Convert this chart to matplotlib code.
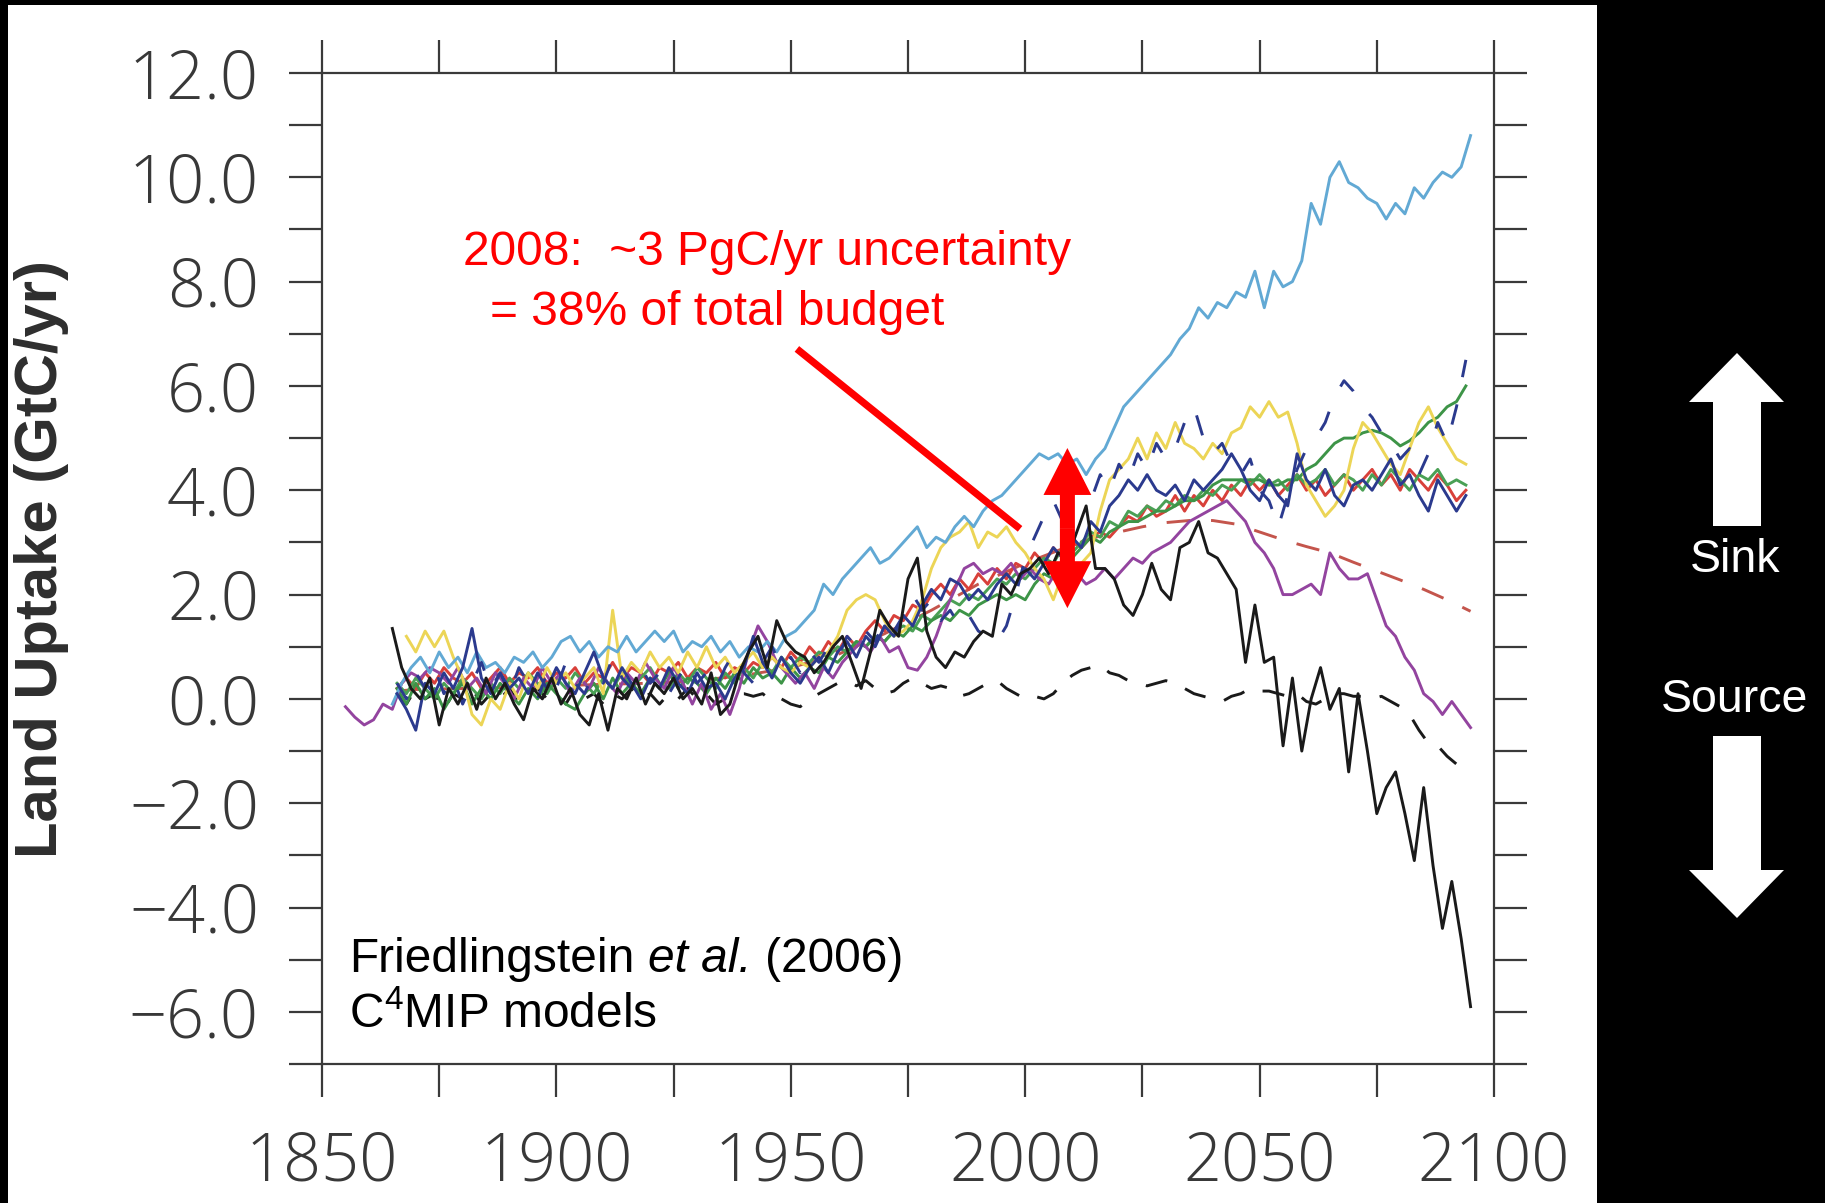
import numpy as np
import matplotlib
matplotlib.use('Agg')
import matplotlib.pyplot as plt
from matplotlib import font_manager as fm
from matplotlib.patches import Rectangle, Polygon, FancyArrow

plt.rcParams['font.family'] = ['Liberation Sans', 'DejaVu Sans']
plt.rcParams['mathtext.fontset'] = 'custom'
plt.rcParams['mathtext.rm'] = 'Liberation Sans'
plt.rcParams['mathtext.it'] = 'Liberation Sans:italic'
plt.rcParams['lines.scale_dashes'] = False

# ---------------- data (GtC/yr), values ----------------
black_solid_start = 1865
black_solid = [1.35, 0.6, 0.2, 0.0, 0.4, -0.5, 0.2, -0.1, 0.3, -0.2, 0.4, 0.0, 0.3, -0.1, -0.4, 0.2,
               0.0, 0.4, -0.1, 0.2, -0.3, -0.5, 0.1, -0.6, 0.2, 0.0, 0.4, -0.1, 0.3, 0.1, 0.4, 0.0,
               0.2, -0.1, 0.5, -0.3, -0.1, 0.5, 0.9, 1.2, 0.6, 1.5, 1.1, 0.9, 0.8, 0.5, 0.7, 1.0,
               1.2, 0.7, 0.2, 0.9, 1.7, 1.4, 1.2, 2.3, 2.7, 1.3, 0.8, 0.6, 0.9, 0.8, 1.1, 1.3,
               1.2, 2.2, 2.0, 2.4, 2.5, 2.7, 2.4, 2.8, 2.7, 3.2, 3.7, 2.5, 2.5, 2.3, 1.8, 1.6,
               2.0, 2.6, 2.1, 1.9, 2.9, 3.0, 3.4, 2.8, 2.7, 2.4, 2.1, 0.7, 1.8, 0.7, 0.8, -0.9,
               0.4, -1.0, 0.0, 0.6, -0.2, 0.2, -1.4, 0.1, -1.0, -2.2, -1.7, -1.4, -2.2, -3.1, -1.7, -3.2,
               -4.4, -3.5, -4.6, -5.9]

light_blue_start = 1865
light_blue = [-0.1, 0.3, 0.6, 0.8, 0.5, 0.9, 0.6, 0.8, 0.5, 0.9, 0.6, 0.7, 0.5, 0.8, 0.7, 0.9,
              0.6, 0.8, 1.1, 1.2, 0.9, 1.1, 0.8, 1.0, 0.9, 1.2, 0.9, 1.1, 1.3, 1.1, 1.3, 0.9,
              1.1, 1.0, 1.2, 0.9, 1.1, 0.8, 1.0, 0.9, 1.1, 0.9, 1.2, 1.3, 1.5, 1.7, 2.2, 2.0,
              2.3, 2.5, 2.7, 2.9, 2.6, 2.7, 2.9, 3.1, 3.3, 2.9, 3.1, 3.0, 3.3, 3.5, 3.3, 3.6,
              3.8, 3.9, 4.1, 4.3, 4.5, 4.7, 4.6, 4.7, 4.5, 4.6, 4.3, 4.6, 4.8, 5.2, 5.6, 5.8,
              6.0, 6.2, 6.4, 6.6, 6.9, 7.1, 7.5, 7.3, 7.6, 7.5, 7.8, 7.7, 8.2, 7.5, 8.2, 7.9,
              8.0, 8.4, 9.5, 9.1, 10.0, 10.3, 9.9, 9.8, 9.6, 9.5, 9.2, 9.5, 9.3, 9.8, 9.6, 9.9,
              10.1, 10.0, 10.2, 10.8]

yellow_start = 1868
yellow = [1.2, 0.9, 1.3, 1.0, 1.3, 0.8, 0.4, -0.3, -0.5, 0.0, -0.2, 0.3, 0.0, 0.5, 0.2, 0.6,
          0.3, 0.5, 0.2, 0.4, 0.6, 0.1, 1.7, 0.4, 0.7, 0.5, 0.9, 0.6, 0.8, 0.5, 0.9, 0.6,
          1.0, 0.6, 0.8, 0.5, 0.7, 0.9, 0.6, 0.8, 0.6, 0.5, 0.7, 0.6, 0.8, 0.9, 1.2, 1.7,
          1.9, 2.0, 1.9, 1.5, 1.2, 1.3, 1.5, 1.9, 2.5, 2.9, 3.1, 3.2, 3.4, 2.9, 3.2, 3.1,
          3.3, 3.0, 2.8, 2.5, 2.3, 1.9, 2.4, 2.2, 2.6, 2.8, 3.6, 4.2, 4.4, 4.6, 5.0, 4.6,
          5.1, 4.8, 5.3, 4.9, 4.8, 4.6, 4.9, 4.7, 5.1, 5.2, 5.6, 5.4, 5.7, 5.4, 5.5, 4.9,
          4.1, 3.8, 3.5, 3.7, 4.0, 4.8, 5.3, 5.1, 4.8, 4.5, 4.3, 4.8, 5.3, 5.6, 5.2, 4.9,
          4.6, 4.5]

navy_solid_start = 1866
navy_solid = [0.1, -0.2, -0.6, 0.3, 0.1, 0.5, 0.2, 0.6, 1.35, 0.4, 0.1, 0.5, 0.2, 0.4, 0.1, 0.5,
              0.2, 0.6, 0.3, 0.1, 0.5, 0.9, 0.4, 0.2, 0.6, 0.3, 0.0, 0.4, 0.2, 0.6, 0.3, 0.1,
              0.5, 0.2, 0.3, 0.0, 0.4, 0.6, 1.2, 0.7, 0.4, 0.8, 0.5, 0.3, 0.6, 0.8, 0.5, 0.9,
              1.1, 0.8, 1.2, 1.0, 1.4, 1.2, 1.6, 1.4, 1.8, 2.1, 1.9, 2.3, 2.2, 1.9, 2.1, 1.9,
              2.2, 2.4, 2.2, 2.5, 2.3, 2.6, 2.9, 2.7, 3.1, 2.9, 3.4, 3.2, 3.7, 3.9, 4.2, 4.0,
              4.3, 4.0, 3.9, 4.1, 3.8, 4.2, 4.0, 4.2, 4.4, 4.7, 4.4, 4.0, 3.8, 4.2, 3.9, 3.7,
              4.7, 4.2, 4.0, 4.4, 3.9, 3.7, 4.1, 4.2, 4.0, 4.3, 4.6, 4.1, 4.3, 3.9, 3.6, 4.2,
              3.9, 3.6, 3.9]

navy_dashed_start = 1866
navy_dashed = [0.3, 0.0, 0.5, 0.2, 0.6, 0.1, 0.4, -0.1, 0.3, 0.7, 0.2, 0.5, 0.1, 0.6, 0.3, 0.0,
               0.5, 0.2, 0.7, 0.3, 0.1, 0.5, 0.3, 0.8, 0.4, 0.2, 0.6, 0.3, 0.5, 0.1, 0.4, 0.7,
               0.3, 0.5, 0.2, 0.6, 0.9, 0.5, 0.3, 0.7, 1.0, 0.6, 0.8, 0.5, 0.9, 0.7, 1.0, 0.8,
               1.2, 1.0, 1.3, 1.1, 1.5, 1.3, 1.6, 2.0, 1.7, 1.9, 1.5, 1.7, 1.4, 1.6, 1.3, 1.2,
               1.1, 1.4, 2.0, 2.7, 3.1, 3.5, 3.8, 3.4, 3.9, 4.2, 3.8, 4.3, 4.0, 4.5, 4.2, 4.7,
               4.4, 4.9, 4.6, 4.8, 5.3, 5.6, 5.0, 4.7, 4.9, 4.5, 4.3, 4.6, 4.0, 3.8, 3.3, 3.9,
               4.4, 4.8, 5.0, 5.3, 5.8, 6.1, 5.9, 5.6, 5.4, 5.1, 4.9, 4.6, 4.8, 4.3, 4.7, 5.3,
               4.9, 5.6, 6.5]

green_start = 1866
green = [0.2, -0.1, 0.3, 0.0, 0.2, -0.2, 0.1, 0.3, -0.1, 0.2, 0.0, 0.3, 0.1, -0.1, 0.2, 0.0,
         0.3, 0.1, -0.1, -0.2, 0.1, 0.3, 0.0, 0.4, 0.1, 0.3, 0.1, 0.4, 0.2, 0.5, 0.2, 0.4,
         0.3, 0.1, 0.4, 0.2, 0.5, 0.3, 0.6, 0.4, 0.5, 0.3, 0.6, 0.4, 0.6, 0.5, 0.8, 0.7,
         0.9, 1.1, 1.0, 1.2, 1.1, 1.3, 1.2, 1.4, 1.3, 1.5, 1.6, 1.5, 1.7, 1.6, 1.8, 1.9,
         2.0, 1.9, 2.0, 1.9, 2.2, 2.4, 2.3, 2.6, 2.7, 2.9, 3.1, 3.0, 3.2, 3.3, 3.4, 3.4,
         3.5, 3.6, 3.6, 3.7, 3.8, 3.8, 3.9, 4.1, 4.2, 4.2, 4.2, 4.2, 4.2, 4.1, 4.1, 4.2,
         4.2, 4.4, 4.5, 4.7, 4.9, 5.0, 5.0, 5.1, 5.15, 5.1, 5.0, 4.85, 4.95, 5.1, 5.3, 5.4,
         5.6, 5.7, 6.0]

green2_start = 1866
green2 = [0.3, 0.1, 0.4, 0.2, 0.0, 0.3, 0.1, 0.4, 0.2, 0.0, 0.3, 0.1, 0.4, 0.2, 0.5, 0.3,
          0.1, 0.4, 0.2, 0.5, 0.3, 0.1, 0.4, 0.2, 0.5, 0.2, 0.4, 0.6, 0.3, 0.2, 0.5, 0.3,
          0.6, 0.4, 0.2, 0.5, 0.3, 0.6, 0.4, 0.7, 0.5, 0.8, 0.6, 0.8, 0.7, 0.9, 0.8, 1.0,
          0.9, 1.1, 1.0, 1.2, 1.1, 1.3, 1.4, 1.3, 1.6, 1.5, 1.7, 1.9, 1.8, 2.0, 1.9, 2.1,
          2.3, 2.2, 2.4, 2.3, 2.5, 2.7, 2.6, 2.9, 2.8, 3.0, 3.2, 3.1, 3.4, 3.3, 3.6, 3.5,
          3.7, 3.6, 3.8, 3.7, 3.9, 3.8, 4.0, 3.9, 4.1, 4.0, 4.2, 4.1, 4.3, 4.1, 4.2, 4.0,
          4.3, 4.1, 4.2, 4.4, 4.1, 4.3, 4.2, 4.0, 4.3, 4.1, 4.4, 4.2, 4.0, 4.3, 4.2, 4.4,
          4.1, 4.2, 4.1]

red_start = 1866
red = [0.2, 0.4, 0.2, 0.5, 0.3, 0.6, 0.4, 0.3, 0.5, 0.2, 0.4, 0.6, 0.3, 0.5, 0.4, 0.6,
       0.3, 0.5, 0.4, 0.6, 0.3, 0.5, 0.4, 0.7, 0.4, 0.6, 0.5, 0.3, 0.6, 0.5, 0.7, 0.4,
       0.6, 0.5, 0.7, 0.4, 0.6, 0.5, 0.7, 0.6, 0.8, 0.6, 0.9, 0.7, 1.0, 0.8, 1.1, 0.9,
       1.2, 1.0, 1.3, 1.5, 1.3, 1.6, 1.5, 1.8, 1.7, 2.0, 2.2, 2.0, 2.3, 2.1, 2.4, 2.2,
       2.5, 2.3, 2.6, 2.5, 2.8, 2.6, 2.9, 2.7, 3.0, 2.9, 3.1, 3.2, 3.1, 3.3, 3.5, 3.4,
       3.7, 3.5, 3.6, 3.9, 3.6, 3.9, 3.7, 4.0, 3.8, 4.1, 3.9, 4.2, 4.0, 4.2, 3.9, 4.1,
       4.3, 4.0, 4.2, 3.9, 4.1, 4.3, 4.0, 4.2, 4.4, 4.1, 4.3, 4.0, 4.4, 4.2, 4.0, 4.3,
       4.1, 3.8, 4.0]

dkred_dashed_years = [1866, 1870, 1880, 1890, 1900, 1910, 1920, 1930, 1940, 1950, 1960, 1970,
                      1980, 1990, 2000, 2010, 2015, 2020, 2025, 2030, 2035, 2040, 2045, 2050,
                      2055, 2060, 2065, 2070, 2075, 2080, 2085, 2090, 2095]
dkred_dashed = [0.15, 0.18, 0.2, 0.22, 0.25, 0.28, 0.3, 0.35, 0.45, 0.6, 0.85, 1.25,
                1.7, 2.2, 2.6, 2.95, 3.1, 3.2, 3.3, 3.38, 3.42, 3.42, 3.35, 3.2,
                3.05, 2.92, 2.8, 2.62, 2.45, 2.28, 2.1, 1.9, 1.68]

purple_start = 1855
purple = [-0.15, -0.35, -0.5, -0.4, -0.1, -0.2, 0.3, 0.5, 0.4, 0.6, 0.5, 0.3, 0.6, 0.2, 0.4, 0.1,
          0.5, 0.3, 0.0, 0.4, 0.2, 0.6, 0.3, 0.5, 0.1, 0.4, 0.2, 0.6, 0.3, 0.1, 0.5, 0.3,
          0.7, 0.4, 0.2, 0.6, 0.3, -0.1, 0.3, -0.2, 0.1, -0.3, 0.2, 0.9, 1.4, 1.1, 0.7, 0.5,
          0.3, 0.5, 0.2, 0.6, 0.4, 0.7, 0.9, 1.1, 0.9, 1.2, 0.9, 1.0, 0.6, 0.55, 0.8, 1.2,
          1.7, 2.1, 2.5, 2.6, 2.4, 2.5, 2.4, 2.6, 2.3, 2.5, 2.3, 2.2, 2.5, 2.3, 2.4, 2.2,
          2.3, 2.5, 2.3, 2.5, 2.7, 2.6, 2.8, 2.9, 3.0, 3.2, 3.4, 3.5, 3.6, 3.7, 3.8, 3.6,
          3.4, 3.0, 2.8, 2.5, 2.0, 2.0, 2.1, 2.2, 2.0, 2.8, 2.5, 2.3, 2.3, 2.4, 1.9, 1.4,
          1.2, 0.8, 0.55, 0.1, -0.05, -0.3, -0.05, -0.3, -0.55]

black_dashed_start = 1866
black_dashed = [0.1, -0.1, 0.2, 0.0, 0.1, -0.2, 0.1, 0.0, 0.2, -0.1, 0.1, 0.0, 0.2, -0.1, 0.1, 0.2,
                0.0, 0.1, -0.1, 0.2, 0.0, 0.1, -0.1, 0.1, 0.0, 0.2, 0.0, 0.1, -0.1, 0.1, 0.0, 0.2,
                0.0, 0.1, -0.1, 0.0, 0.1, 0.1, 0.05, 0.1, -0.05, 0.0, -0.1, -0.15, 0.0, 0.1, 0.2, 0.3,
                0.35, 0.25, 0.35, 0.2, 0.1, 0.15, 0.3, 0.4, 0.3, 0.2, 0.25, 0.2, 0.05, 0.1, 0.2, 0.3,
                0.35, 0.2, 0.1, 0.0, 0.05, 0.0, 0.1, 0.3, 0.45, 0.55, 0.6, 0.65, 0.5, 0.45, 0.35, 0.3,
                0.25, 0.3, 0.35, 0.3, 0.2, 0.1, 0.05, 0.0, -0.05, 0.05, 0.1, 0.2, 0.15, 0.15, 0.1, 0.05,
                0.1, -0.05, -0.1, 0.0, 0.1, 0.1, 0.05, 0.05, 0.0, 0.05, -0.05, -0.15, -0.3, -0.6, -0.85, -0.9,
                -1.1, -1.25, -1.0]

x_ticks = [1850, 1875, 1900, 1925, 1950, 1975, 2000, 2025, 2050, 2075, 2100]
x_ticklabels = ['1850', '', '1900', '', '1950', '', '2000', '', '2050', '', '2100']
y_ticks = list(range(-7, 13))
y_ticklabels = [('%.1f' % v).replace('-', '\u2212') if v % 2 == 0 else '' for v in y_ticks]

# ---------------- fonts ----------------
tick_family = ['Liberation Sans', 'DejaVu Sans']
tick_weight = 'normal'
for fam in ['Roboto', 'Lato', 'Open Sans']:
    try:
        p = fm.findfont(fm.FontProperties(family=fam, weight='light'), fallback_to_default=False)
        if 'light' in p.lower():
            tick_family = [fam, 'Liberation Sans', 'DejaVu Sans']
            tick_weight = 'light'
            break
    except Exception:
        pass

# ---------------- figure ----------------
W, H = 1825, 1203
fig = plt.figure(figsize=(W / 100, H / 100), dpi=100, facecolor='black')


def fx(px):
    return px / W


def fy(py):
    return 1 - py / H


fig.add_artist(Rectangle((fx(8), 0), fx(1597) - fx(8), fy(5), transform=fig.transFigure,
                         facecolor='white', edgecolor='none', zorder=-5))

ax = fig.add_axes([fx(322), fy(1064), fx(1494) - fx(322), fy(73) - fy(1064)])
ax.set_facecolor('white')
ax.set_xlim(1850, 2100)
ax.set_ylim(-7, 12)

axis_col = '#3a3a3a'
ax.set_xticks(x_ticks)
ax.set_xticklabels(x_ticklabels)
ax.set_yticks(y_ticks)
ax.set_yticklabels(y_ticklabels)
ax.tick_params(axis='both', which='both', direction='out', length=23.5, width=1.6,
               top=True, right=True, labeltop=False, labelright=False,
               color=axis_col, labelcolor='#383838', labelsize=48)
ax.tick_params(axis='x', pad=24)
ax.tick_params(axis='y', pad=22)
for lab in ax.get_xticklabels() + ax.get_yticklabels():
    lab.set_fontfamily(tick_family)
    lab.set_fontweight(tick_weight)
for s in ax.spines.values():
    s.set_linewidth(1.6)
    s.set_color(axis_col)


def yrs(start, vals, step=2):
    return np.arange(start, start + step * len(vals), step)


lw = 2.1
ax.plot(yrs(black_dashed_start, black_dashed), black_dashed, color='#1a1a1a', lw=lw, dashes=(16, 14))
ax.plot(dkred_dashed_years, dkred_dashed, color='#c4554c', lw=lw, dashes=(17, 15))
ax.plot(yrs(red_start, red), red, color='#d8403a', lw=lw)
ax.plot(yrs(green2_start, green2), green2, color='#4aa055', lw=lw)
ax.plot(yrs(green_start, green), green, color='#3d9447', lw=lw)
ax.plot(yrs(purple_start, purple), purple, color='#93449f', lw=lw)
ax.plot(yrs(yellow_start, yellow), yellow, color='#ecd556', lw=lw)
ax.plot(yrs(light_blue_start, light_blue), light_blue, color='#62a9d4', lw=lw)
ax.plot(yrs(navy_dashed_start, navy_dashed), navy_dashed, color='#2b3a8e', lw=lw, dashes=(15, 20))
ax.plot(yrs(navy_solid_start, navy_solid), navy_solid, color='#2b3a8e', lw=lw)
ax.plot(yrs(black_solid_start, black_solid), black_solid, color='#1a1a1a', lw=lw)

# red annotation: pointer line and double arrow at 2008
ax.plot([1951.3, 1998.9], [6.71, 3.26], color='#ff0000', lw=5.2, solid_capstyle='butt', zorder=10)
arr_x, arr_lo, arr_hi = 2009.0, 1.74, 4.81
arr_mid = (arr_lo + arr_hi) / 2
for tip in (arr_hi, arr_lo):
    ax.add_patch(FancyArrow(arr_x, arr_mid, 0, tip - arr_mid, width=3.2, head_width=10.2,
                            head_length=0.9, length_includes_head=True, color='#ff0000',
                            lw=0, zorder=11))

fig.text(fx(463), fy(265), '2008:  ~3 PgC/yr uncertainty', color='#ff0000', fontsize=34.5,
         ha='left', va='baseline')
fig.text(fx(490), fy(325), '= 38% of total budget', color='#ff0000', fontsize=34.5,
         ha='left', va='baseline')

# citation text, built from pieces so the italic part keeps normal spacing
renderer = fig.canvas.get_renderer()
cite_fs = 34.5


def text_width(s, **kw):
    t = fig.text(0, 0, s, fontsize=cite_fs, **kw)
    w = t.get_window_extent(renderer).width
    t.remove()
    return w


space_w = text_width('x x') - text_width('xx')
x_px = 349.0
base = fy(972)
for piece, style in (('Friedlingstein', 'normal'), ('et al.', 'italic'), ('(2006)', 'normal')):
    t = fig.text(fx(x_px), base, piece, color='black', fontsize=cite_fs, style=style,
                 ha='left', va='baseline')
    x_px += t.get_window_extent(renderer).width + space_w
fig.text(fx(349), fy(1028), r'C$^{4}$MIP models', color='black', fontsize=cite_fs,
         ha='left', va='baseline')

fig.text(fx(42), fy(559), 'Land Uptake (GtC/yr)', rotation=90, fontsize=43, fontweight='bold',
         color='#2e2e2e', ha='center', va='center')

# right panel: sink / source arrows
up = [(1737, 353), (1784, 402), (1761, 402), (1761, 526), (1713, 526), (1713, 402), (1689, 402)]
down = [(1713, 736), (1761, 736), (1761, 870), (1784, 870), (1737, 918), (1689, 870), (1713, 870)]
for pts in (up, down):
    fig.add_artist(Polygon([(fx(x), fy(y)) for x, y in pts], closed=True, transform=fig.transFigure,
                           facecolor='white', edgecolor='none'))
fig.text(fx(1735), fy(572), 'Sink', color='white', fontsize=33.5, ha='center', va='baseline')
fig.text(fx(1735), fy(712), 'Source', color='white', fontsize=33.5, ha='center', va='baseline')

fig.savefig('out.png', dpi=100, facecolor='black')
